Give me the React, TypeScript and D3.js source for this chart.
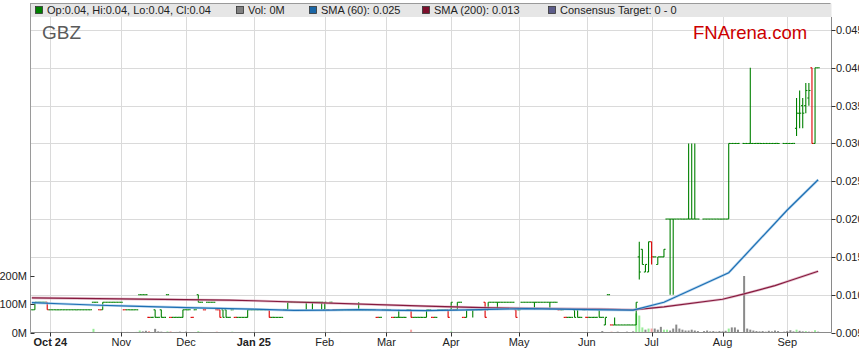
import React from 'react';
import * as d3 from 'd3';

// ---------- DATA (prices in 0.001 units, volumes in millions) ----------
const START = '2024-09-23';
const monthLabels = ['Oct 24', 'Nov', 'Dec', 'Jan 25', 'Feb', 'Mar', 'Apr', 'May', 'Jun', 'Jul', 'Aug', 'Sep'];
const boldLabels = ['Oct 24', 'Jan 25'];
const priceTicks = [0.005, 0.01, 0.015, 0.02, 0.025, 0.03, 0.035, 0.04, 0.045];
const volTicks = [0, 100, 200];

// daily closes, one per weekday from START (0 = no trade)
const closes = [
  8, 9, 9, 9, 9, 8, 8, 8, 8, 8,
  8, 8, 8, 8, 8, 8, 8, 8, 8, 8,
  9, 9, 8, 9, 9, 9, 9, 9, 9, 9,
  8, 8, 8, 8, 8, 10, 10, 10, 7, 7,
  7, 7, 7, 7, 10, 7, 7, 7, 7, 8,
  8, 8, 7, 8, 9, 9, 8, 9, 9, 9,
  8, 7, 7, 7, 7, 8, 7, 7, 7, 7,
  8, 8, 8, 8, 8, 8, 8, 7, 7, 7,
  7, 7, 8, 9, 9, 9, 9, 9, 9, 9,
  9, 9, 9, 9, 9, 9, 8, 9, 8, 8,
  8, 8, 8, 8, 8, 8, 8, 8, 8, 8,
  8, 8, 7, 7, 8, 8, 8, 7, 7, 7,
  7, 7, 8, 7, 7, 7, 7, 7, 8, 8,
  7, 7, 8, 8, 8, 7, 9, 8, 9, 9,
  7, 8, 8, 8, 8, 8, 8, 7, 9, 9,
  9, 9, 9, 9, 9, 9, 9, 7, 8, 9,
  9, 9, 9, 9, 9, 9, 9, 9, 9, 9,
  9, 8, 8, 7, 7, 7, 7, 7, 7, 8,
  7, 7, 7, 7, 7, 7, 7, 10, 6, 6,
  6, 6, 6, 6, 6, 6, 9, 13, 14, 14,
  17, 15, 15, 15, 15, 16, 20, 20, 20, 20,
  20, 20, 20, 20, 20, 20, 20, 0, 20, 20,
  20, 20, 20, 20, 20, 20, 30, 30, 30, 30,
  0, 30, 30, 30, 30, 30, 30, 30, 30, 30,
  30, 30, 30, 0, 30, 30, 30, 30, 34, 34,
  34, 37, 37, 30, 40, 40,
];

// days whose bar has a range (others are open = high = low = close)
const rangeDays = [1, 5, 23, 40, 42, 49, 54, 61, 62, 63, 70, 77, 83, 89, 91, 94, 95, 106, 119, 123, 128, 135, 136, 138, 141, 143, 147, 148, 151, 157, 163, 168, 176, 177, 184, 186, 189, 196, 197, 198, 199, 200, 201, 203, 205, 207, 208, 213, 214, 215, 226, 233, 248, 249, 250, 251, 252, 253, 254];
const rangeOpen = [8, 9, 8, 8, 8, 7, 10, 8, 8, 8, 7, 8, 8, 9, 9, 9, 8, 8, 7, 8, 7, 8, 8, 8, 7, 8, 9, 8, 9, 8, 9, 9, 8, 8, 8, 6, 6, 6, 15, 16, 13, 13, 17, 14, 15, 20, 20, 20, 20, 20, 20, 30, 32, 34, 35, 35, 36, 40, 30];
const rangeHigh = [9, 9, 9, 8, 8, 8, 10, 8, 8, 8, 8, 8, 9, 9, 9, 9, 9, 9, 8, 8, 8, 8, 9, 9, 8, 8, 9, 9, 9, 8, 9, 9, 8, 8, 8, 7, 7, 9, 17, 16, 14, 17, 17, 15, 16, 20, 20, 30, 30, 30, 30, 40, 36, 37, 36, 38, 38, 40, 40];
const rangeLow = [8, 8, 8, 7, 7, 7, 9, 7, 7, 7, 7, 7, 8, 8, 8, 8, 8, 8, 7, 7, 7, 7, 8, 8, 7, 7, 7, 8, 8, 7, 8, 8, 7, 7, 7, 6, 6, 6, 12, 14, 13, 13, 14, 14, 15, 10, 10, 20, 20, 20, 20, 30, 31, 32, 32, 34, 35, 30, 30];

// traded volume (millions) on the days listed
const volDays = [8, 20, 29, 31, 34, 35, 36, 37, 38, 40, 41, 42, 44, 45, 47, 48, 50, 54, 55, 60, 65, 100, 116, 123, 136, 138, 140, 168, 175, 185, 188, 190, 193, 195,
  196, 197, 198, 199, 200, 201, 202, 203, 204, 205, 206, 207, 208, 209, 210, 211, 212, 213, 214, 215, 216, 218, 219, 220, 221, 222, 223, 224, 225,
  226, 227, 228, 229, 231, 232, 233, 234, 235, 236, 237, 238, 239, 240, 241, 242, 244, 245, 246, 247, 248, 249, 250, 251, 252, 253, 254, 255];
const volValues = [2, 13, 2, 2, 2, 7, 4, 6, 5, 13, 4, 3, 4, 4, 2, 3, 3, 5, 2, 3, 3, 2, 2, 10, 4, 2, 2, 2, 2, 5, 3, 3, 3, 4,
  68, 60, 18, 10, 14, 14, 14, 10, 20, 10, 10, 7, 14, 28, 14, 10, 7, 7, 10, 7, 5, 5, 7, 4, 5, 3, 5, 4, 6,
  14, 18, 18, 10, 200, 14, 10, 7, 5, 4, 5, 3, 6, 4, 7, 5, 3, 5, 8, 4, 10, 6, 4, 5, 3, 3, 8, 3];

// moving averages (day index, value in 0.001)
const sma60Days = [0, 9, 22, 32, 50, 64, 72, 85, 97, 106, 120, 128, 142, 160, 171, 181, 195, 205, 226, 245, 255];
const sma60Values = [8.95, 8.8, 8.6, 8.5, 8.3, 8.17, 8.08, 7.92, 7.95, 8.03, 7.92, 7.9, 8.0, 8.16, 8.1, 8.03, 7.95, 9.0, 12.9, 21.2, 25.2];
const sma200Days = [0, 64, 72, 128, 149, 184, 195, 205, 224, 231, 241, 245, 255];
const sma200Values = [9.58, 9.27, 9.2, 8.48, 8.25, 8.1, 8.0, 8.4, 9.4, 10.1, 11.2, 11.75, 13.1];

const legendItems = [
  { label: 'Op:0.04, Hi:0.04, Lo:0.04, Cl:0.04', color: '#008000', x: 35 },
  { label: 'Vol: 0M', color: '#808080', x: 236 },
  { label: 'SMA (60): 0.025', color: '#1a66a6', x: 309 },
  { label: 'SMA (200): 0.013', color: '#7d0f2d', x: 422 },
  { label: 'Consensus Target: 0 - 0', color: '#5c5c8a', x: 548 },
];

// ---------- LAYOUT ----------
const W = 859, H = 363;
const PL = 30.5, PR = 831.5, PT = 17, PB = 332.5;
const FONT = '"Liberation Sans", Arial, sans-serif';

function weekdays(start: string, n: number): Date[] {
  const out: Date[] = [];
  const d = new Date(start + 'T00:00:00Z');
  while (out.length < n) {
    const wd = d.getUTCDay();
    if (wd !== 0 && wd !== 6) out.push(new Date(d));
    d.setUTCDate(d.getUTCDate() + 1);
  }
  return out;
}

export default function App() {
  const dates = weekdays(START, 262);
  const x = d3.scaleLinear().domain([6, 245]).range([50.3, 787.3]);
  const y = d3.scaleLinear().domain([0.005, 0.045]).range([332.5, 30]);
  const yv = d3.scaleLinear().domain([0, 200]).range([332.5, 276]);

  // month ticks: first weekday of each month
  const monthIdx: number[] = [];
  for (let i = 1; i < dates.length; i++) {
    if (dates[i].getUTCMonth() !== dates[i - 1].getUTCMonth()) monthIdx.push(i);
  }
  const months = monthIdx.slice(0, monthLabels.length).map((i, k) => ({ i, label: monthLabels[k] }));

  const bars = closes.map((c, i) => {
    if (!c) return null;
    const r = rangeDays.indexOf(i);
    const o = r >= 0 ? rangeOpen[r] : c;
    const h = r >= 0 ? rangeHigh[r] : c;
    const l = r >= 0 ? rangeLow[r] : c;
    let prev = 0;
    for (let j = i - 1; j >= 0; j--) if (closes[j]) { prev = closes[j]; break; }
    const dir = prev && c < prev ? -1 : prev && c > prev ? 1 : 0;
    return { i, o: o / 1000, h: h / 1000, l: l / 1000, c: c / 1000, dir };
  }).filter(Boolean) as { i: number; o: number; h: number; l: number; c: number; dir: number }[];

  const dirOf = (i: number) => {
    const b = bars.find(bb => bb.i === i);
    return b ? b.dir : 0;
  };

  const line = d3.line<[number, number]>()
    .x(d => x(d[0]))
    .y(d => y(d[1] / 1000))
    .curve(d3.curveLinear);
  const sma60 = line(sma60Days.map((d, k) => [d, sma60Values[k]] as [number, number])) || '';
  const sma200 = line(sma200Days.map((d, k) => [d, sma200Values[k]] as [number, number])) || '';

  const tk = 1.6;

  return (
    <svg width={W} height={H} style={{ display: 'block', fontFamily: FONT }}>
      <style>{'body{margin:0}'}</style>
      <rect x={0} y={0} width={W} height={H} fill="#fff" />
      {/* legend band */}
      <rect x={PL} y={3.5} width={PR - PL} height={13.5} fill="#e6e6e6" />
      <line x1={PL} x2={PR - 1} y1={3.5} y2={3.5} stroke="#9a9a9a" />
      {legendItems.map(it => (
        <g key={it.label}>
          <rect x={it.x + 0.5} y={6.5} width={7} height={7} fill={it.color} stroke="#333" strokeWidth={0.8} />
          <text x={it.x + 12} y={14} fontSize={11} fill="#222">{it.label}</text>
        </g>
      ))}
      {/* grid */}
      {priceTicks.slice(1).map(p => (
        <line key={'h' + p} x1={PL} x2={PR} y1={Math.round(y(p)) + 0.5} y2={Math.round(y(p)) + 0.5} stroke="#dadada" />
      ))}
      {months.map(m => (
        <line key={'v' + m.i} x1={Math.round(x(m.i)) + 0.5} x2={Math.round(x(m.i)) + 0.5} y1={PT} y2={PB} stroke="#dadada" />
      ))}
      {/* brand */}
      <text x={42} y={39} fontSize={19} fill="#5a5a5a">GBZ</text>
      <text x={693} y={39} fontSize={18.5} fill="#cc0000">FNArena.com</text>
      {/* volume */}
      {volDays.map((d, k) => {
        const dir = dirOf(d);
        const col = dir > 0 ? '#98ec98' : dir < 0 ? '#f4a3a3' : '#8a8a8a';
        return <rect key={'vol' + d} x={x(d) - 1} y={yv(volValues[k])} width={2} height={Math.max(0.8, PB - yv(volValues[k]))} fill={col} />;
      })}
      {/* price bars */}
      <g strokeWidth={1.1}>
        {bars.map(b => {
          const cx = x(b.i);
          const col = b.dir < 0 ? '#dd0000' : '#008000';
          return (
            <g key={'b' + b.i} stroke={col}>
              {b.h > b.l && <line x1={cx} x2={cx} y1={y(b.h)} y2={y(b.l)} />}
              <line x1={cx - tk} x2={cx} y1={y(b.o)} y2={y(b.o)} />
              <line x1={cx} x2={cx + tk} y1={y(b.c)} y2={y(b.c)} />
            </g>
          );
        })}
      </g>
      {/* moving averages */}
      <path d={sma200} fill="none" stroke="#d9a3b6" strokeWidth={2.6} opacity={0.7} />
      <path d={sma200} fill="none" stroke="#861a3e" strokeWidth={1.2} />
      <path d={sma60} fill="none" stroke="#9cc6e8" strokeWidth={2.6} opacity={0.7} />
      <path d={sma60} fill="none" stroke="#1d6fb3" strokeWidth={1.2} />
      {/* axes */}
      <line x1={PL} x2={PL} y1={3} y2={PB} stroke="#9a9a9a" />
      <line x1={PR} x2={PR} y1={PT} y2={PB} stroke="#8a8a8a" />
      <line x1={PL} x2={PR} y1={PB} y2={PB} stroke="#8a8a8a" />
      {priceTicks.map(p => (
        <g key={'pt' + p}>
          <line x1={PR} x2={PR + 4} y1={Math.round(y(p)) + 0.5} y2={Math.round(y(p)) + 0.5} stroke="#333" />
          <text x={836} y={y(p) + 4} fontSize={11} fill="#222">{p.toFixed(3)}</text>
        </g>
      ))}
      {volTicks.map(v => (
        <g key={'vt' + v}>
          <line x1={PL} x2={PL + 4} y1={Math.round(yv(v)) + 0.5} y2={Math.round(yv(v)) + 0.5} stroke="#333" />
          <text x={27} y={yv(v) + 4} fontSize={11} fill="#222" textAnchor="end">{v + 'M'}</text>
        </g>
      ))}
      {months.map(m => (
        <g key={'mt' + m.i}>
          <line x1={Math.round(x(m.i)) + 0.5} x2={Math.round(x(m.i)) + 0.5} y1={PB} y2={PB + 4} stroke="#333" />
          <text x={x(m.i)} y={346} fontSize={11} fill="#222" textAnchor="middle"
            fontWeight={boldLabels.includes(m.label) ? 'bold' : 'normal'}>{m.label}</text>
        </g>
      ))}
    </svg>
  );
}
